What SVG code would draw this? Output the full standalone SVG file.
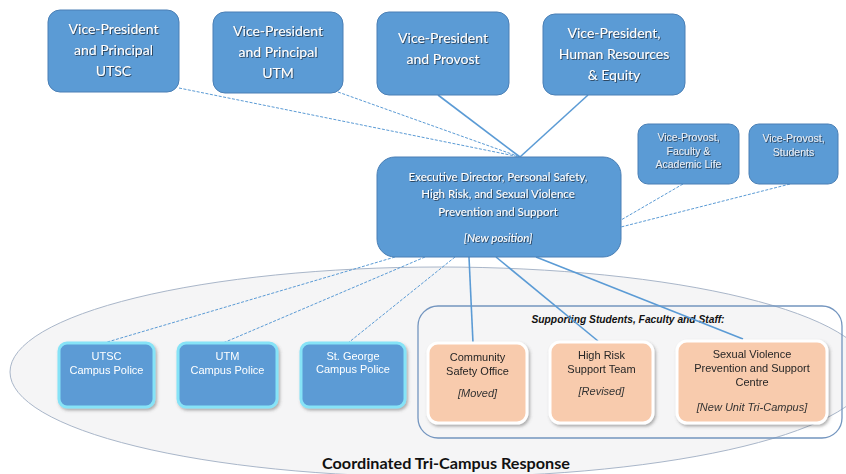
<svg xmlns="http://www.w3.org/2000/svg" width="846" height="474" viewBox="0 0 846 474">
  <defs>
    <filter id="txtShadow" x="-10%" y="-30%" width="120%" height="160%">
      <feDropShadow dx="0.8" dy="0.8" stdDeviation="0.5" flood-color="#1f2a38" flood-opacity="0.9"/>
    </filter>
    <filter id="boxShadow" x="-10%" y="-10%" width="125%" height="130%">
      <feDropShadow dx="1.5" dy="2" stdDeviation="1.5" flood-color="#555" flood-opacity="0.45"/>
    </filter>
    <style>
      .top { fill: #5b9bd5; stroke: #4a7fb5; stroke-width: 1; }
      .topText { font-family: Lato, "Liberation Sans", sans-serif; font-size: 14px; fill: #ffffff; text-anchor: middle; }
      .smallText { font-family: Lato, "Liberation Sans", sans-serif; font-size: 11.5px; fill: #ffffff; text-anchor: middle; }
      .vpText { font-family: "Liberation Sans", Arial, sans-serif; font-size: 10.5px; fill: #e8eef6; text-anchor: middle; }
      .police { fill: #5b9bd5; stroke: #86e3f7; stroke-width: 3; }
      .policeText { font-family: "Liberation Sans", Arial, sans-serif; font-size: 11px; fill: #ffffff; text-anchor: middle; }
      .unit { fill: #f8cbad; stroke: #ffffff; stroke-width: 3; }
      .unitText { font-family: "Liberation Sans", Arial, sans-serif; font-size: 11px; fill: #262626; text-anchor: middle; }
      .unitNote { font-family: "Liberation Sans", Arial, sans-serif; font-size: 11px; font-style: italic; fill: #333333; text-anchor: middle; }
      .solid { fill: none; stroke: #5b9bd5; stroke-width: 1.6; }
      .dashed { fill: none; stroke: #5b9bd5; stroke-width: 1; stroke-dasharray: 3 1.5; }
    </style>
  </defs>

  <rect width="846" height="474" fill="#ffffff"/>

  <!-- tri-campus area -->
  <g id="tri-campus-area">
    <ellipse cx="440" cy="372" rx="430" ry="105" fill="#f5f5f6" stroke="#a9b6c9" stroke-width="1"/>
    <text x="446" y="469" text-anchor="middle" font-family="Lato, 'Liberation Sans', sans-serif" font-size="16" font-weight="bold" fill="#111111" textLength="248" lengthAdjust="spacingAndGlyphs">Coordinated Tri-Campus Response</text>
  </g>

  <!-- supporting units container -->
  <g id="supporting-group">
    <rect x="418" y="306" width="424" height="132" rx="20" fill="none" stroke="#7395bf" stroke-width="1.3"/>
    <text x="628" y="323" text-anchor="middle" font-family="'Liberation Sans', Arial, sans-serif" font-size="11" font-weight="bold" font-style="italic" fill="#111111" textLength="193" lengthAdjust="spacingAndGlyphs">Supporting Students, Faculty and Staff:</text>
  </g>

  <!-- connectors -->
  <g id="connectors">
    <line class="dashed" x1="179" y1="88" x2="520" y2="157"/>
    <line class="dashed" x1="338" y1="92" x2="520" y2="157"/>
    <line class="solid" x1="438" y1="95" x2="520" y2="157"/>
    <line class="solid" x1="588" y1="95" x2="520" y2="157"/>
    <line class="dashed" x1="683" y1="184" x2="621" y2="220"/>
    <line class="dashed" x1="790" y1="184" x2="621" y2="227"/>
    <line class="dashed" x1="395" y1="257" x2="104" y2="343"/>
    <line class="dashed" x1="425" y1="257" x2="223" y2="343"/>
    <line class="dashed" x1="455" y1="257" x2="348" y2="343"/>
    <line class="solid" x1="469" y1="257" x2="473" y2="343"/>
    <line class="solid" x1="496" y1="257" x2="598" y2="341"/>
    <line class="solid" x1="536" y1="257" x2="743" y2="339"/>
  </g>

  <!-- senior leadership -->
  <g id="vp-principal-utsc">
    <rect class="top" x="48" y="10" width="131" height="82" rx="12"/>
    <g filter="url(#txtShadow)">
      <text class="topText" x="113.5" y="34">Vice-President</text>
      <text class="topText" x="113.5" y="55">and Principal</text>
      <text class="topText" x="113.5" y="76">UTSC</text>
    </g>
  </g>
  <g id="vp-principal-utm">
    <rect class="top" x="213" y="12" width="130" height="81" rx="12"/>
    <g filter="url(#txtShadow)">
      <text class="topText" x="278" y="36">Vice-President</text>
      <text class="topText" x="278" y="57">and Principal</text>
      <text class="topText" x="278" y="78">UTM</text>
    </g>
  </g>
  <g id="vp-provost">
    <rect class="top" x="377" y="12" width="132" height="83" rx="12"/>
    <g filter="url(#txtShadow)">
      <text class="topText" x="443" y="43">Vice-President</text>
      <text class="topText" x="443" y="64">and Provost</text>
    </g>
  </g>
  <g id="vp-hr-equity">
    <rect class="top" x="543" y="14" width="142" height="81" rx="12"/>
    <g filter="url(#txtShadow)">
      <text class="topText" x="614" y="38">Vice-President,</text>
      <text class="topText" x="614" y="59">Human Resources</text>
      <text class="topText" x="614" y="80">&amp; Equity</text>
    </g>
  </g>

  <g id="vice-provost-faculty">
    <rect class="top" x="638" y="124" width="101" height="60" rx="10"/>
    <g filter="url(#txtShadow)">
      <text class="vpText" x="688.5" y="141">Vice-Provost,</text>
      <text class="vpText" x="688.5" y="155">Faculty &amp;</text>
      <text class="vpText" x="688.5" y="168">Academic Life</text>
    </g>
  </g>
  <g id="vice-provost-students">
    <rect class="top" x="749" y="124" width="89" height="60" rx="10"/>
    <g filter="url(#txtShadow)">
      <text class="vpText" x="793.5" y="142">Vice-Provost,</text>
      <text class="vpText" x="793.5" y="156">Students</text>
    </g>
  </g>

  <g id="executive-director">
    <rect class="top" x="377" y="157" width="244" height="100" rx="18"/>
    <g filter="url(#txtShadow)">
      <text class="smallText" x="498" y="181">Executive Director, Personal Safety,</text>
      <text class="smallText" x="498" y="198">High Risk, and Sexual Violence</text>
      <text class="smallText" x="498" y="216">Prevention and Support</text>
      <text class="smallText" x="498" y="242" font-style="italic">[New position]</text>
    </g>
  </g>

  <!-- campus police -->
  <g id="utsc-police" filter="url(#boxShadow)">
    <rect class="police" x="59" y="343" width="95" height="64" rx="8"/>
    <text class="policeText" x="106.5" y="360">UTSC</text>
    <text class="policeText" x="106.5" y="374">Campus Police</text>
  </g>
  <g id="utm-police" filter="url(#boxShadow)">
    <rect class="police" x="178" y="343" width="99" height="64" rx="8"/>
    <text class="policeText" x="227.5" y="360">UTM</text>
    <text class="policeText" x="227.5" y="374">Campus Police</text>
  </g>
  <g id="stgeorge-police" filter="url(#boxShadow)">
    <rect class="police" x="301" y="343" width="104" height="64" rx="8"/>
    <text class="policeText" x="353" y="360">St. George</text>
    <text class="policeText" x="353" y="373">Campus Police</text>
  </g>

  <!-- supporting units -->
  <g id="community-safety" filter="url(#boxShadow)">
    <rect class="unit" x="428" y="343" width="99" height="80" rx="10"/>
    <text class="unitText" x="477.5" y="361">Community</text>
    <text class="unitText" x="477.5" y="375">Safety Office</text>
    <text class="unitNote" x="477.5" y="397">[Moved]</text>
  </g>
  <g id="high-risk-team" filter="url(#boxShadow)">
    <rect class="unit" x="550" y="342" width="103" height="81" rx="10"/>
    <text class="unitText" x="601.5" y="359">High Risk</text>
    <text class="unitText" x="601.5" y="373">Support Team</text>
    <text class="unitNote" x="601.5" y="395">[Revised]</text>
  </g>
  <g id="sv-centre" filter="url(#boxShadow)">
    <rect class="unit" x="677" y="341" width="150" height="82" rx="10"/>
    <text class="unitText" x="752" y="358">Sexual Violence</text>
    <text class="unitText" x="752" y="372">Prevention and Support</text>
    <text class="unitText" x="752" y="386">Centre</text>
    <text class="unitNote" x="752" y="411" font-family="Lato, 'Liberation Sans', sans-serif" font-size="12">[New Unit Tri-Campus]</text>
  </g>
</svg>
